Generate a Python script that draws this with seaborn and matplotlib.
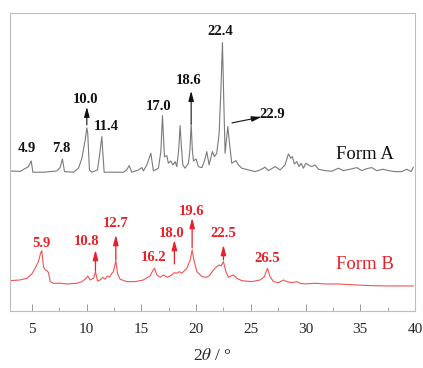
import pandas as pd
import matplotlib
matplotlib.use('Agg')
import matplotlib.pyplot as plt
import seaborn as sns
from matplotlib.ticker import MultipleLocator

# PXRD traces (2theta in degrees, intensity in a.u., already stacked)
form_a_2theta = [3.02, 3.93, 4.69, 4.94, 5.09, 6.06, 7.28, 7.58, 7.79, 7.98, 8.80, 9.26, 9.57, 9.87,
                 10.02, 10.10, 10.26, 10.48, 10.99, 11.19, 11.39, 11.60, 12.15, 13.37, 13.66, 13.89,
                 14.13, 14.74, 15.05, 15.19, 15.50, 15.87, 16.10, 16.56, 16.78, 16.93, 17.11, 17.33,
                 17.47, 17.69, 17.88, 18.09, 18.24, 18.41, 18.54, 18.68, 18.79, 19.00, 19.30, 19.44,
                 19.55, 19.66, 19.76, 20.00, 20.21, 20.53, 20.76, 20.98, 21.19, 21.49, 21.68, 21.89,
                 22.11, 22.29, 22.41, 22.53, 22.65, 22.77, 22.90, 23.02, 23.26, 23.50, 23.63, 23.87,
                 24.18, 24.78, 25.39, 25.85, 26.30, 26.61, 27.22, 27.68, 28.13, 28.43, 28.65, 28.80,
                 28.98, 29.20, 29.41, 29.59, 29.80, 30.02, 30.26, 30.57, 30.87, 31.17, 31.78, 32.40,
                 33.00, 33.46, 34.07, 34.68, 35.14, 35.59, 36.05, 36.51, 37.11, 37.57, 38.18, 38.79,
                 39.25, 39.64, 39.85]
form_a_int = [140, 139.5, 144.3, 150, 138.7, 138.7, 140, 143.3, 152, 139.3, 138.7, 142.7, 152.7, 171,
              183, 178, 141, 138.7, 141, 156, 174.3, 138.7, 138.7, 138.7, 141, 145.3,
              138.7, 141, 143.3, 140, 146, 157.7, 140, 142.7, 159.3, 195.3, 154.3, 155.3,
              147.7, 150, 146, 149.3, 144.3, 161, 185.3, 161, 146, 142.7, 147.7, 161,
              187, 161, 150, 152, 144.3, 143.3, 150, 159.3, 146, 159.3, 154.3, 157.7,
              178, 228, 268.3, 211, 157.7, 171, 184.3, 171, 147.7, 149.3, 150.3, 146,
              142.7, 141, 139.3, 141, 143.7, 140.3, 144.3, 141, 146, 157, 152.7, 154.3,
              147, 149.3, 144.3, 147.7, 142.7, 147.7, 146, 144.3, 146, 141.7, 140.3, 139.7,
              142.7, 140.3, 141.7, 143.3, 140.3, 142.3, 143.3, 140.3, 141.7, 140.3, 139.3, 139.3,
              141.7, 139.3, 143.7]

form_b_2theta = [3.02, 3.93, 4.54, 5.00, 5.30, 5.60, 5.80, 5.91, 6.06, 6.21, 6.37, 6.52, 6.67, 6.97,
                 7.58, 8.20, 9.11, 9.57, 9.96, 10.11, 10.32, 10.63, 10.81, 10.99, 11.24, 11.48,
                 11.69, 11.90, 12.09, 12.31, 12.45, 12.67, 12.82, 13.06, 13.68, 14.43, 15.19, 15.80,
                 16.03, 16.20, 16.42, 16.72, 17.02, 17.38, 17.79, 18.02, 18.24, 18.47, 18.70, 19.16,
                 19.46, 19.64, 19.80, 20.07, 20.53, 20.98, 21.28, 21.58, 21.89, 22.11, 22.29, 22.50,
                 22.72, 22.96, 23.41, 23.72, 24.18, 25.09, 25.85, 26.24, 26.52, 26.76, 27.07, 27.52,
                 27.98, 28.29, 28.74, 29.20, 29.50, 29.96, 30.87, 31.78, 33.00, 34.53, 36.05, 37.57,
                 39.09, 39.85]
form_b_int = [30.3, 31, 32.7, 37, 42.7, 49.3, 58, 60.3, 44.3, 41, 40.3, 38.3, 29.3, 27.7,
              27.7, 27, 27.7, 29.3, 32.7, 35, 31, 32.7, 39.3, 30, 31, 33.7,
              31.7, 35, 33.7, 37.7, 39.3, 50.3, 37.7, 31.7, 29.3, 29.3, 31, 35,
              40, 42.7, 36, 33.7, 36, 33.7, 36, 38.3, 37.7, 39.3, 37.7, 42.7,
              51, 61, 51, 39.3, 34.3, 33.7, 36, 41, 44.3, 46, 45, 49.3,
              39.3, 33.7, 36, 32.7, 30.3, 29.3, 31, 34.3, 42.7, 34.3, 29.3, 28.3,
              31, 29.3, 28.3, 29.3, 27.7, 27, 27.7, 27, 27, 26, 25.3, 25,
              25, 25]

df_a = pd.DataFrame({'2theta': form_a_2theta, 'intensity': form_a_int})
df_b = pd.DataFrame({'2theta': form_b_2theta, 'intensity': form_b_int})

sns.set_style('white')
plt.rcParams['font.family'] = ['Liberation Serif', 'DejaVu Serif']
plt.rcParams['mathtext.fontset'] = 'stix'

fig = plt.figure(figsize=(4.23, 3.68), dpi=100)
ax = fig.add_axes([0.0236, 0.155, 0.9575, 0.81])

sns.lineplot(data=df_a, x='2theta', y='intensity', color='#7a7a7a', linewidth=0.8,
             estimator=None, sort=False, ax=ax)
sns.lineplot(data=df_b, x='2theta', y='intensity', color='#f05454', linewidth=0.8,
             estimator=None, sort=False, ax=ax)

ax.set_xlim(3, 40)
ax.set_ylim(0, 298)
ax.set_yticks([])
ax.xaxis.set_major_locator(MultipleLocator(5))
ax.xaxis.set_minor_locator(MultipleLocator(2.5))
ax.tick_params(axis='x', which='major', direction='in', length=5, width=0.7,
               color='#999999', labelsize=11, pad=9, bottom=True)
ax.tick_params(axis='x', which='minor', direction='in', length=3, width=0.6,
               color='#999999', bottom=True)
for s in ax.spines.values():
    s.set_color('#bdbdbd')
    s.set_linewidth(0.8)
ax.set_xlabel('2$\\theta$ / °', fontsize=12.5, labelpad=8)
ax.set_ylabel('')

# peak labels, Form A
black = '#111111'
lab = dict(fontsize=10.5, fontweight='bold', ha='center', va='center')
for t, x, y in [('4.9', 4.54, 162.7), ('7.8', 7.65, 162), ('10.0', 9.87, 211),
                ('11.4', 11.79, 184.3), ('17.0', 16.56, 204.3), ('18.6', 19.30, 230),
                ('22.4', 22.20, 279.3), ('22.9', 26.95, 196)]:
    ax.text(x, y, t, color=black, **lab)

arr_k = dict(arrowstyle='-|>,head_length=0.6,head_width=0.16', color=black, lw=0.8, shrinkA=0, shrinkB=0)
ax.annotate('', xy=(10.02, 204), xytext=(10.02, 186), arrowprops=arr_k)
ax.annotate('', xy=(19.55, 220), xytext=(19.55, 187), arrowprops=arr_k)
ax.annotate('', xy=(26.0, 194), xytext=(23.28, 188), arrowprops=arr_k)

# peak labels, Form B
red = '#e8202a'
for t, x, y in [('5.9', 5.91, 67.7), ('10.8', 9.96, 69.3), ('12.7', 12.61, 87.7),
                ('16.2', 16.11, 53.7), ('18.0', 17.79, 77.7), ('19.6', 19.61, 99.3),
                ('22.5', 22.50, 77.7), ('26.5', 26.46, 52.7)]:
    ax.text(x, y, t, color=red, **lab)

arr_r = dict(arrowstyle='-|>,head_length=0.6,head_width=0.16', color=red, lw=0.9, shrinkA=0, shrinkB=0)
ax.annotate('', xy=(10.81, 61), xytext=(10.81, 40), arrowprops=arr_r)
ax.annotate('', xy=(12.67, 76), xytext=(12.67, 51), arrowprops=arr_r)
ax.annotate('', xy=(18.02, 71), xytext=(18.02, 47), arrowprops=arr_r)
ax.annotate('', xy=(19.64, 93), xytext=(19.64, 63), arrowprops=arr_r)
ax.annotate('', xy=(22.50, 66), xytext=(22.50, 51), arrowprops=arr_r)

ax.text(35.42, 156, 'Form A', color=black, fontsize=13.5, ha='center', va='center')
ax.text(35.42, 46, 'Form B', color=red, fontsize=13.5, ha='center', va='center')

fig.savefig('out.png', dpi=100)
